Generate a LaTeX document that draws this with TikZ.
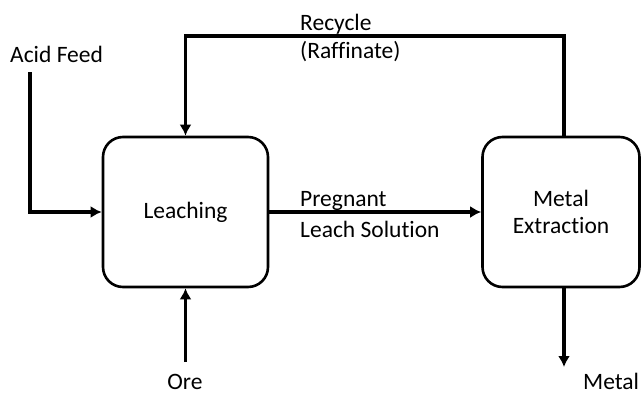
\documentclass[tikz,border=0pt]{standalone}
\usepackage{fontspec}
\setmainfont[Ligatures=NoCommon]{Carlito}
\usetikzlibrary{arrows.meta}
\begin{document}
\begin{tikzpicture}[x=1pt,y=-1pt,
  every node/.style={font=\fontsize{23.5}{27}\selectfont},
  unit/.style={draw, line width=2.6pt, rounded corners=20pt, align=center,
    minimum height=150pt, inner sep=0pt},
  flow/.style={line width=3.6pt, -{Latex[length=11pt,width=12pt]}},
  lbl/.style={anchor=base west, inner sep=0pt}]
\useasboundingbox (0,0) rectangle (641,394);

% process units
\node[unit, minimum width=165pt] (leach) at (185.5,212) {Leaching};
\node[unit, minimum width=157pt] (ext) at (561,212) {Metal\\Extraction};

% free ends of feed and product lines
\coordinate (acid) at (30,72);
\coordinate (ore) at (185.5,362);
\coordinate (metal) at (564,367);
\coordinate (rtop) at (564,36);

% streams
\draw[flow] (acid) |- (leach.west);
\draw[flow] (ore) -- (leach.south);
\draw[flow] (leach.east) -- (ext.west);
\draw[flow] ([xshift=3pt]ext.north) -- (rtop) -| (leach.north);
\draw[flow] ([xshift=3pt]ext.south) -- (metal);

% stream labels
\node[lbl] (lacid) at (10,62) {Acid Feed};
\node[lbl] (lrec) at (300,30) {Recycle};
\node[lbl] (lraf) at (300,58) {(Raffinate)};
\node[lbl] (lpreg) at (300,206) {Pregnant};
\node[lbl] (lsol) at (300,237) {Leach Solution};
\node[anchor=base, inner sep=0pt] (lore) at (185,389) {Ore};
\node[lbl] (lmetal) at (583,389) {Metal};
\end{tikzpicture}
\end{document}
